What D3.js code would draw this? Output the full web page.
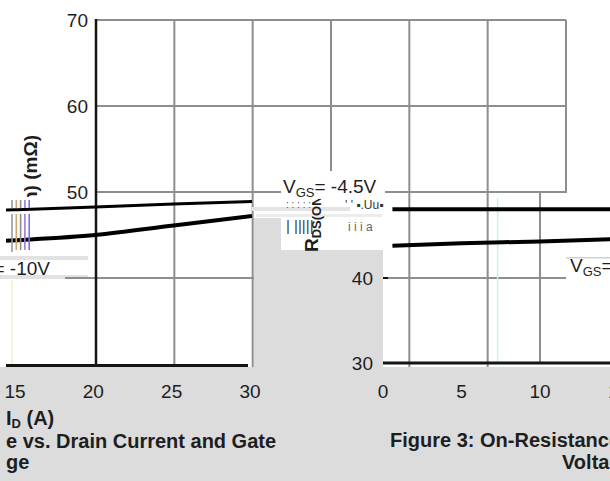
<!DOCTYPE html>
<html>
<head>
<meta charset="utf-8">
<script src="https://cdn.jsdelivr.net/npm/d3@7"></script>
<style>
  body { margin: 0; background: #fff; }
  text { font-family: "Liberation Sans", Arial, sans-serif; fill: #1e1e1e; }
</style>
</head>
<body>
<div id="chart"></div>
<script>
// left figure: RDS(on) vs drain current
let leftYTicks = [70, 60, 50]
let leftGridY = [70, 60, 50, 40]
let leftGridX = [5, 10, 15, 20, 25, 30]
let lowerXTicks = [15, 20, 25, 30]
let idValues = [14, 15, 20, 25, 30]
let rdsVgs45 = [47.9, 47.95, 48.25, 48.6, 48.9]
let rdsVgs10 = [44.3, 44.4, 45.0, 46.1, 47.2]

// right figure: figure 3
let rightXTicks = [0, 5, 10, 15]
let rightYTicks = [40, 30]
let vgsValues = [0.6, 5, 10, 15]
let rdsUpper = [48.1, 48.1, 48.1, 48.1]
let rdsLower = [43.8, 44.1, 44.3, 44.6]

let W = 610, H = 481
let gray = "#dcdcdc", gridColor = "#8e8e8e", ink = "#141414"

let svg = d3.select("#chart").append("svg")
    .attr("width", W)
    .attr("height", H)

let xL = d3.scaleLinear().domain([0, 30]).range([96, 566])
let yL = d3.scaleLinear().domain([30, 70]).range([364, 20])
let xLow = d3.scaleLinear().domain([15, 30]).range([17, 252])
let xR = d3.scaleLinear().domain([0, 15]).range([383, 618.5])
let yR = d3.scaleLinear().domain([30, 70]).range([363, 23])

let defs = svg.append("defs")
defs.append("clipPath").attr("id", "clipL")
    .append("rect").attr("x", 6).attr("y", 0).attr("width", xLow(30) - 6).attr("height", H)
defs.append("clipPath").attr("id", "clipR")
    .append("rect").attr("x", xR(0)).attr("y", 0).attr("width", W - xR(0)).attr("height", H)
defs.append("clipPath").attr("id", "clipLabel")
    .append("rect").attr("x", 0).attr("y", 0).attr("width", 90).attr("height", 197)
defs.append("clipPath").attr("id", "clipRds")
    .append("rect").attr("x", 280).attr("y", 199).attr("width", 100).attr("height", 60)

svg.append("rect").attr("width", W).attr("height", H).attr("fill", "#fff")

// "VGS= -10V" label box (left, partly cut)
svg.append("rect").attr("x", 0).attr("y", 256).attr("width", 88).attr("height", 4).attr("fill", "#e2e2e2")
svg.append("rect").attr("x", 0).attr("y", 275).attr("width", 88).attr("height", 4).attr("fill", "#e2e2e2")

// grid of the left figure
svg.selectAll(".vgrid")
    .data(leftGridX)
    .join("line")
    .attr("class", "vgrid")
    .attr("x1", d => xL(d))
    .attr("x2", d => xL(d))
    .attr("y1", yL(70))
    .attr("y2", d => d === 30 ? yL(50) + 1 : yL(30) + 3)
    .attr("stroke", gridColor)
    .attr("stroke-width", 2)

svg.selectAll(".hgrid")
    .data(leftGridY)
    .join("line")
    .attr("class", "hgrid")
    .attr("x1", d => d === 40 ? 65 : xL(0))
    .attr("x2", xL(30))
    .attr("y1", d => yL(d))
    .attr("y2", d => yL(d))
    .attr("stroke", gridColor)
    .attr("stroke-width", 2)

// page background between / below the plots
svg.append("rect")
    .attr("x", xLow(30) + 2).attr("y", 218)
    .attr("width", xR(0) - xLow(30) - 2).attr("height", 150)
    .attr("fill", gray)
svg.append("rect")
    .attr("x", 0).attr("y", yL(30) + 3)
    .attr("width", W).attr("height", H - yL(30) - 3)
    .attr("fill", gray)

// right figure grid
svg.append("line")
    .attr("x1", xR(10)).attr("x2", xR(10))
    .attr("y1", yL(50)).attr("y2", yR(30))
    .attr("stroke", gridColor).attr("stroke-width", 2)
svg.append("line")
    .attr("x1", xR(7.3)).attr("x2", xR(7.3))
    .attr("y1", yL(50) + 6).attr("y2", yR(30))
    .attr("stroke", "#c9eff3").attr("stroke-width", 1.5)

// faint leftover line at the left edge
svg.append("line")
    .attr("x1", 12).attr("x2", 12).attr("y1", 280).attr("y2", yL(30))
    .attr("stroke", "#f3efcf").attr("stroke-width", 1.5)

// axes
svg.append("line")
    .attr("x1", xL(0)).attr("x2", xL(0))
    .attr("y1", yL(70) - 1).attr("y2", yL(30) + 2)
    .attr("stroke", ink).attr("stroke-width", 2.5)
svg.append("line")
    .attr("x1", 6).attr("x2", xLow(30) - 4)
    .attr("y1", yL(30) + 1.5).attr("y2", yL(30) + 1.5)
    .attr("stroke", ink).attr("stroke-width", 3)
svg.append("line")
    .attr("x1", xR(0)).attr("x2", W)
    .attr("y1", yR(30)).attr("y2", yR(30))
    .attr("stroke", ink).attr("stroke-width", 3)
svg.selectAll(".rtick")
    .data(rightYTicks)
    .join("line")
    .attr("class", "rtick")
    .attr("x1", xR(0)).attr("x2", xR(0) + 5)
    .attr("y1", d => yR(d)).attr("y2", d => yR(d))
    .attr("stroke", ink).attr("stroke-width", 2)

// data lines
let lineL = d3.line()
    .x(d => xLow(d[0]))
    .y(d => yL(d[1]))
    .curve(d3.curveMonotoneX)
let lineR = d3.line()
    .x(d => xR(d[0]))
    .y(d => yR(d[1]))
    .curve(d3.curveMonotoneX)

let gL = svg.append("g").attr("clip-path", "url(#clipL)")
gL.append("path")
    .attr("d", lineL(d3.zip(idValues, rdsVgs45)))
    .attr("fill", "none").attr("stroke", "#000").attr("stroke-width", 3)
gL.append("path")
    .attr("d", lineL(d3.zip(idValues, rdsVgs10)))
    .attr("fill", "none").attr("stroke", "#000").attr("stroke-width", 4)

let gR = svg.append("g").attr("clip-path", "url(#clipR)")
gR.append("path")
    .attr("d", lineR(d3.zip(vgsValues, rdsUpper)))
    .attr("fill", "none").attr("stroke", "#000").attr("stroke-width", 4)
gR.append("path")
    .attr("d", lineR(d3.zip(vgsValues, rdsLower)))
    .attr("fill", "none").attr("stroke", "#000").attr("stroke-width", 4)

// legend leftovers on the far left
let fragColors = ["#9a9a9a", "#d0a46c", "#8c8c8c", "#a27ad6", "#7474e2"]
svg.selectAll(".frag")
    .data(fragColors)
    .join("line")
    .attr("class", "frag")
    .attr("x1", (d, i) => 12 + i * 4.3)
    .attr("x2", (d, i) => 12 + i * 4.3)
    .attr("y1", 200)
    .attr("y2", (d, i) => i === 0 ? 252 : 250)
    .attr("stroke", d => d)
    .attr("stroke-width", 1.6)
    .attr("stroke-dasharray", "8,6,40")

// tick labels, left figure
svg.selectAll(".ylab")
    .data(leftYTicks)
    .join("text")
    .attr("class", "ylab")
    .attr("x", 88)
    .attr("y", d => yL(d))
    .attr("dy", "0.35em")
    .attr("text-anchor", "end")
    .style("font-size", "19px")
    .text(d => d)

svg.selectAll(".xlab")
    .data(lowerXTicks)
    .join("text")
    .attr("class", "xlab")
    .attr("x", d => xLow(d) - 2)
    .attr("y", 398)
    .attr("text-anchor", "middle")
    .style("font-size", "19px")
    .text(d => d)

// tick labels, right figure
svg.selectAll(".rylab")
    .data(rightYTicks)
    .join("text")
    .attr("class", "rylab")
    .attr("x", 373)
    .attr("y", d => yR(d))
    .attr("dy", "0.35em")
    .attr("text-anchor", "end")
    .style("font-size", "19px")
    .text(d => d)

svg.selectAll(".rxlab")
    .data(rightXTicks)
    .join("text")
    .attr("class", "rxlab")
    .attr("x", d => xR(d))
    .attr("y", 398)
    .attr("text-anchor", "middle")
    .style("font-size", "19px")
    .text(d => d)

// rotated y label of left figure (cut)
svg.append("g").attr("clip-path", "url(#clipLabel)")
    .append("text")
    .attr("transform", "translate(37,135) rotate(-90)")
    .attr("text-anchor", "end")
    .style("font-size", "19px")
    .style("font-weight", "bold")
    .text("RDS(on) (mΩ)")

// "VGS = -10V"
let t10 = svg.append("text")
    .attr("x", 50).attr("y", 275)
    .attr("text-anchor", "end")
    .style("font-size", "19px")
t10.append("tspan").text("V")
t10.append("tspan").attr("dy", 4).style("font-size", "13px").text("GS")
t10.append("tspan").attr("dy", -4).text("= -10V")

// legend box in the middle
svg.append("rect")
    .attr("x", 281).attr("y", 171)
    .attr("width", xR(0) + 2 - 281).attr("height", 79)
    .attr("fill", "#fff")
svg.append("rect").attr("x", 252).attr("y", 207).attr("width", 98).attr("height", 4).attr("fill", "#e4e4e4")
svg.append("rect").attr("x", 256).attr("y", 214).attr("width", 126).attr("height", 3).attr("fill", "#ececec")
svg.append("text").attr("x", 286).attr("y", 208)
    .style("font-size", "10px").style("fill", "#555").text(": : : : :")
svg.append("text").attr("x", 345).attr("y", 209)
    .style("font-size", "12px").style("fill", "#333").text("' ' ▪.Uu▪")
svg.append("text").attr("x", 286).attr("y", 231)
    .style("font-size", "15px").style("fill", "#444").text("| |||||")
svg.append("text").attr("x", 348).attr("y", 231)
    .style("font-size", "12px").style("fill", "#666").text("i i i a")

let t45 = svg.append("text")
    .attr("x", 283).attr("y", 193)
    .style("font-size", "19px")
t45.append("tspan").text("V")
t45.append("tspan").attr("dy", 4).style("font-size", "13px").text("GS")
t45.append("tspan").attr("dy", -4).text("= -4.5V")

// rotated y label of right figure (cut)
let tr = svg.append("g").attr("clip-path", "url(#clipRds)")
    .append("text")
    .attr("transform", "translate(318,252) rotate(-90)")
    .style("font-size", "19px")
    .style("font-weight", "bold")
tr.append("tspan").text("R")
tr.append("tspan").attr("dy", 3).style("font-size", "13px").text("DS(ON)")

// "VGS=" label on the right
svg.append("rect").attr("x", 566).attr("y", 257).attr("width", 44).attr("height", 1.5).attr("fill", "#d0d0d0")
let tv = svg.append("text")
    .attr("x", 570).attr("y", 272)
    .style("font-size", "19px")
tv.append("tspan").text("V")
tv.append("tspan").attr("dy", 4).style("font-size", "13px").text("GS")
tv.append("tspan").attr("dy", -4).text("= -6V")

// axis titles and captions
let tid = svg.append("text")
    .attr("x", 6).attr("y", 425)
    .style("font-size", "20px").style("font-weight", "bold")
tid.append("tspan").text("I")
tid.append("tspan").attr("dy", 3).style("font-size", "13px").text("D")
tid.append("tspan").attr("dy", -3).text(" (A)")

svg.append("text").attr("x", 6).attr("y", 448)
    .style("font-size", "20px").style("font-weight", "bold")
    .text("e vs. Drain Current and Gate")
svg.append("text").attr("x", 6).attr("y", 469)
    .style("font-size", "20px").style("font-weight", "bold")
    .text("ge")
svg.append("text").attr("x", 390).attr("y", 447)
    .style("font-size", "20px").style("font-weight", "bold")
    .text("Figure 3: On-Resistance vs. Gate-Source")
svg.append("text").attr("x", 562).attr("y", 469)
    .style("font-size", "20px").style("font-weight", "bold")
    .text("Voltage")
</script>
</body>
</html>
